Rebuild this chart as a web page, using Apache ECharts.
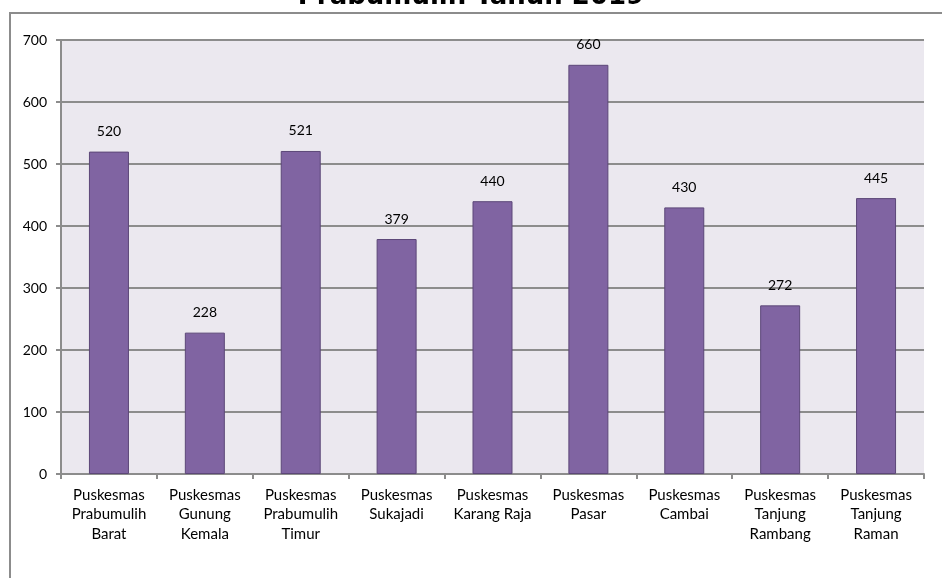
<!DOCTYPE html>
<html><head><meta charset="utf-8">
<script src="https://cdn.jsdelivr.net/npm/echarts@6/dist/echarts.min.js"></script>
<style>html,body{margin:0;padding:0;background:#fff}#c{width:942px;height:578px}</style>
</head><body><div id="c"></div>
<script>
const titleText = 'Prabumulih Tahun 2019';
const categories = [
  'Puskesmas\nPrabumulih\nBarat',
  'Puskesmas\nGunung\nKemala',
  'Puskesmas\nPrabumulih\nTimur',
  'Puskesmas\nSukajadi',
  'Puskesmas\nKarang Raja',
  'Puskesmas\nPasar',
  'Puskesmas\nCambai',
  'Puskesmas\nTanjung\nRambang',
  'Puskesmas\nTanjung\nRaman'
];
const values = [520, 228, 521, 379, 440, 660, 430, 272, 445];
const yMin = 0, yMax = 700, yInterval = 100;

const FONT = 'Lato';
const chart = echarts.init(document.getElementById('c'), null, {renderer: 'canvas'});
chart.setOption({
  animation: false,
  backgroundColor: '#ffffff',
  textStyle: {fontFamily: FONT},
  title: {
    text: titleText, left: 'center', top: -21,
    textStyle: {fontFamily: 'DejaVu Sans', fontWeight: 'bold', fontSize: 26, color: '#000'}
  },
  graphic: [{
    type: 'rect', silent: true, z: -10,
    shape: {x: 10, y: 13, width: 1000, height: 1000},
    style: {fill: 'none', stroke: '#8c8c8c', lineWidth: 2}
  }],
  grid: {left: 61, right: 18, top: 40, bottom: 104, show: true, backgroundColor: '#ebe8ef', borderWidth: 0},
  xAxis: {
    type: 'category', data: categories,
    axisLine: {lineStyle: {color: '#8c8c8c', width: 2}},
    axisTick: {show: true, length: 5, alignWithLabel: false, lineStyle: {color: '#8c8c8c', width: 2}},
    axisLabel: {color: '#000', fontSize: 15, fontFamily: FONT, lineHeight: 19.5, margin: 11, interval: 0}
  },
  yAxis: {
    type: 'value', min: yMin, max: yMax, interval: yInterval,
    axisLine: {show: true, lineStyle: {color: '#8c8c8c', width: 2}},
    axisTick: {show: true, length: 5, lineStyle: {color: '#8c8c8c', width: 2}},
    axisLabel: {color: '#000', fontSize: 14, fontFamily: FONT, margin: 14},
    splitLine: {show: true, lineStyle: {color: '#8c8c8c', width: 2}}
  },
  series: [{
    type: 'bar', data: values, barWidth: 40,
    itemStyle: {color: '#8064a2', borderColor: '#5c4778', borderWidth: 1},
    label: {show: true, position: 'top', distance: 13, color: '#000', fontSize: 14, fontFamily: FONT}
  }]
});
</script></body></html>
